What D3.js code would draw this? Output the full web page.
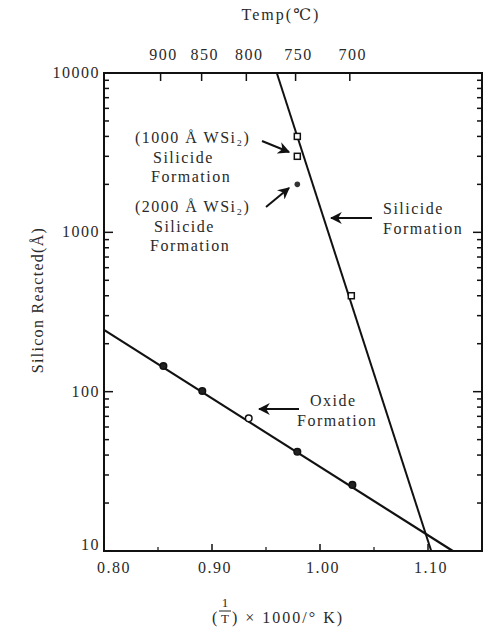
<!DOCTYPE html>
<html><head><meta charset="utf-8">
<script src="https://cdn.jsdelivr.net/npm/d3@7/dist/d3.min.js"></script>
<style>
body{margin:0;background:#fff;}
text{font-family:"Liberation Serif","DejaVu Serif",serif;fill:#2a2a2a;}
</style></head>
<body><svg id="c" width="484" height="637"></svg>
<script>
// ---- data ----
const xTicks = [0.80, 0.90, 1.00, 1.10];
const xMinorTicks = [0.85, 0.95, 1.05];
const yTicks = [10, 100, 1000, 10000];
const tempLabels = [900, 850, 800, 750, 700];
const tempInvT = [0.8524, 0.8904, 0.9318, 0.9774, 1.0276];
// oxide formation data
const oxideX = [0.855, 0.891, 0.934, 0.979, 1.030];
const oxideY = [145, 101, 68, 42, 26];
const oxideFitX = [0.80, 1.123];
const oxideFitY = [244, 10];
// silicide formation data
const silX = [0.979, 0.979, 0.979, 1.029];
const silY = [4000, 3000, 2000, 400];
const silShape = ["square", "square", "circle", "square"];
const silFitX = [0.960, 1.103];
const silFitY = [10000, 10];

const svg = d3.select("#c");
const L = 104, R = 482, T = 73, B = 551;
const x = d3.scaleLinear().domain([0.80, 1.15]).range([L, R]);
const y = d3.scaleLog().domain([10, 10000]).range([B, T]);

// frame
svg.append("rect").attr("x", L).attr("y", T).attr("width", R - L).attr("height", B - T)
  .attr("fill", "none").attr("stroke", "#111").attr("stroke-width", 2);

// log ticks left & right
const logMinor = [];
[10, 100, 1000].forEach(d => { for (let k = 2; k <= 9; k++) logMinor.push(d * k); });
const g = svg.append("g").attr("stroke", "#111");
logMinor.forEach(v => {
  g.append("line").attr("x1", L).attr("x2", L + 5).attr("y1", y(v)).attr("y2", y(v)).attr("stroke-width", 1.5);
  g.append("line").attr("x1", R).attr("x2", R - 5).attr("y1", y(v)).attr("y2", y(v)).attr("stroke-width", 1.5);
});
yTicks.forEach(v => {
  g.append("line").attr("x1", L).attr("x2", L + 9).attr("y1", y(v)).attr("y2", y(v)).attr("stroke-width", 1.5);
  g.append("line").attr("x1", R).attr("x2", R - 9).attr("y1", y(v)).attr("y2", y(v)).attr("stroke-width", 1.5);
});
// bottom ticks
xTicks.forEach(v => g.append("line").attr("x1", x(v)).attr("x2", x(v)).attr("y1", B).attr("y2", B - 7).attr("stroke-width", 1.5));
xMinorTicks.forEach(v => g.append("line").attr("x1", x(v)).attr("x2", x(v)).attr("y1", B).attr("y2", B - 4).attr("stroke-width", 1.2));
// top ticks
tempInvT.forEach(v => g.append("line").attr("x1", x(v)).attr("x2", x(v)).attr("y1", T).attr("y2", T + 8).attr("stroke-width", 1.5));

const fs = 16;
// y labels
yTicks.forEach(v => svg.append("text").attr("x", 100).attr("y", y(v) + (v === 10 ? -1 : 5))
  .attr("text-anchor", "end").attr("font-size", fs).attr("letter-spacing", 1.5).text(v));
// x labels
xTicks.forEach(v => svg.append("text").attr("x", v === 0.80 ? x(v) + 10 : x(v) + 3).attr("y", 573)
  .attr("text-anchor", "middle").attr("font-size", fs).attr("letter-spacing", 1.5).text(v.toFixed(2)));
// top labels
tempLabels.forEach((t, i) => svg.append("text").attr("x", x(tempInvT[i]) + 3).attr("y", 60)
  .attr("text-anchor", "middle").attr("font-size", fs).attr("letter-spacing", 1.5).text(t));
svg.append("text").attr("x", 281).attr("y", 20).attr("text-anchor", "middle")
  .attr("font-size", fs).attr("letter-spacing", 2).text("Temp(℃)");
// y title
svg.append("text").attr("transform", "translate(43,300) rotate(-90)").attr("text-anchor", "middle")
  .attr("font-size", fs).attr("letter-spacing", 1.3).text("Silicon Reacted(Å)");
// x title with fraction
const xt = svg.append("g");
xt.append("text").attr("x", 212).attr("y", 623).attr("font-size", fs).text("(");
xt.append("text").attr("x", 225).attr("y", 607).attr("text-anchor", "middle").attr("font-size", 13).text("1");
xt.append("line").attr("x1", 219).attr("x2", 231).attr("y1", 611).attr("y2", 611).attr("stroke", "#222").attr("stroke-width", 1);
xt.append("text").attr("x", 225).attr("y", 623).attr("text-anchor", "middle").attr("font-size", 13).text("T");
xt.append("text").attr("x", 232).attr("y", 623).attr("font-size", fs).attr("letter-spacing", 2).text(") × 1000/° K)");

// fit lines
const line = d3.line().x(d => x(d[0])).y(d => y(d[1]));
svg.append("path").datum(oxideFitX.map((v, i) => [v, oxideFitY[i]])).attr("d", line)
  .attr("fill", "none").attr("stroke", "#111").attr("stroke-width", 2.2);
svg.append("path").datum(silFitX.map((v, i) => [v, silFitY[i]])).attr("d", line)
  .attr("fill", "none").attr("stroke", "#111").attr("stroke-width", 2);

// points
oxideX.forEach((v, i) => svg.append("circle").attr("cx", x(v)).attr("cy", y(oxideY[i])).attr("r", 3.3)
  .attr("fill", i === 2 ? "#fff" : "#222").attr("stroke", "#111").attr("stroke-width", 1.5));
silX.forEach((v, i) => {
  if (silShape[i] === "square") {
    svg.append("rect").attr("x", x(v) - 3).attr("y", y(silY[i]) - 3).attr("width", 6).attr("height", 6)
      .attr("fill", "#fff").attr("stroke", "#111").attr("stroke-width", 1.5);
  } else {
    svg.append("circle").attr("cx", x(v)).attr("cy", y(silY[i])).attr("r", 2.8).attr("fill", "#333");
  }
});

// arrow marker
svg.append("defs").append("marker").attr("id", "ah").attr("viewBox", "0 0 10 10")
  .attr("refX", 9).attr("refY", 5).attr("markerWidth", 6).attr("markerHeight", 6)
  .attr("orient", "auto").append("path").attr("d", "M0,0 L10,5 L0,10 L3,5 Z").attr("fill", "#111");
function arrow(x1, y1, x2, y2) {
  svg.append("line").attr("x1", x1).attr("y1", y1).attr("x2", x2).attr("y2", y2)
    .attr("stroke", "#111").attr("stroke-width", 2).attr("marker-end", "url(#ah)");
}
arrow(262, 141, 289, 152);
arrow(266, 207, 289, 188);
arrow(372, 218, 331, 218);
arrow(299, 409, 259, 409);

// annotation text
function ann(tx, ty, s) {
  svg.append("text").attr("x", tx).attr("y", ty).attr("font-size", fs).attr("letter-spacing", 1.5).text(s);
}
ann(135, 143, "(1000 Å WSi₂)");
ann(153, 163, "Silicide");
ann(151, 182, "Formation");
ann(135, 212, "(2000 Å WSi₂)");
ann(154, 232, "Silicide");
ann(150, 251, "Formation");
ann(383, 214, "Silicide");
ann(383, 234, "Formation");
ann(310, 406, "Oxide");
ann(297, 426, "Formation");
</script></body></html>
